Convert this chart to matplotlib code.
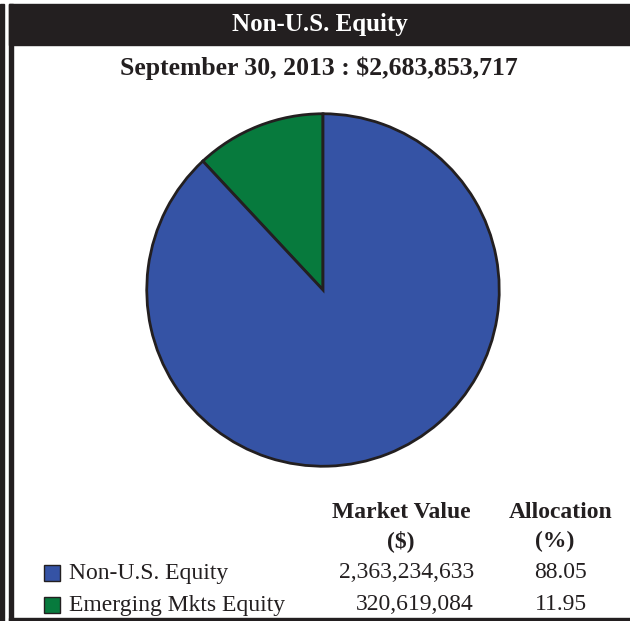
import matplotlib
matplotlib.use("Agg")
import matplotlib.pyplot as plt
from matplotlib.patches import Rectangle

plt.rcParams['font.family'] = ['Liberation Serif', 'DejaVu Serif']

# datos
titulo = "Non-U.S. Equity"
subtitulo = "September 30, 2013 : $2,683,853,717"
categorias = ["Non-U.S. Equity", "Emerging Mkts Equity"]
valores = [2363234633, 320619084]
asignacion = [88.05, 11.95]
colores = ["#3553a5", "#077a3d"]
borde = "#231f20"

W, H = 630, 621
fig = plt.figure(figsize=(W / 100, H / 100), dpi=100)

def fx(x):
    return x / W

def fy(y):
    return 1 - y / H

# marco
fig.patches.append(Rectangle((fx(0), fy(621)), fx(4), 617 / H, transform=fig.transFigure, color=borde))
fig.patches.append(Rectangle((fx(9), fy(621)), fx(4), 617 / H, transform=fig.transFigure, color=borde))
fig.patches.append(Rectangle((fx(9), fy(45)), fx(621), 41 / H, transform=fig.transFigure, color=borde))
fig.patches.append(Rectangle((fx(9), fy(621)), fx(621), 3 / H, transform=fig.transFigure, color=borde))

fig.text(fx(320), fy(25), titulo, color="white", fontsize=18, fontweight="bold", ha="center", va="center")
fig.text(fx(319), fy(68), subtitulo, color=borde, fontsize=18.5, fontweight="bold", ha="center", va="center")

# pastel
ax = fig.add_axes([fx(145), fy(468), 356 / W, 356 / H])
ax.pie(valores[::-1], colors=colores[::-1], startangle=90, counterclock=True,
       wedgeprops=dict(edgecolor=borde, linewidth=2))
ax.set_xlim(-1.01, 1.01)
ax.set_ylim(-1.01, 1.01)
ax.set_aspect("equal")

# tabla
fs = 17
fig.text(fx(401), fy(512), "Market Value", fontsize=fs, fontweight="bold", ha="center", va="center", color=borde)
fig.text(fx(401), fy(541), "($)", fontsize=fs, fontweight="bold", ha="center", va="center", color=borde)
fig.text(fx(561), fy(512), "Allocation", fontsize=fs, fontweight="bold", ha="center", va="center", color=borde)
fig.text(fx(555), fy(541), "(%)", fontsize=fs, fontweight="bold", ha="center", va="center", color=borde)

filas_y = [573, 605]
for i in range(len(categorias)):
    y = filas_y[i]
    fig.patches.append(Rectangle((fx(44), fy(y + 8)), fx(16), 16 / H, transform=fig.transFigure,
                                 facecolor=colores[i], edgecolor=borde, linewidth=1))
    fig.text(fx(69), fy(y), categorias[i], fontsize=fs, ha="left", va="center", color=borde)
    fig.text(fx(474), fy(y), f"{valores[i]:,}", fontsize=fs, ha="right", va="center", color=borde)
    fig.text(fx(587), fy(y), f"{asignacion[i]:.2f}", fontsize=fs, ha="right", va="center", color=borde)

fig.savefig("out.png", dpi=100)
